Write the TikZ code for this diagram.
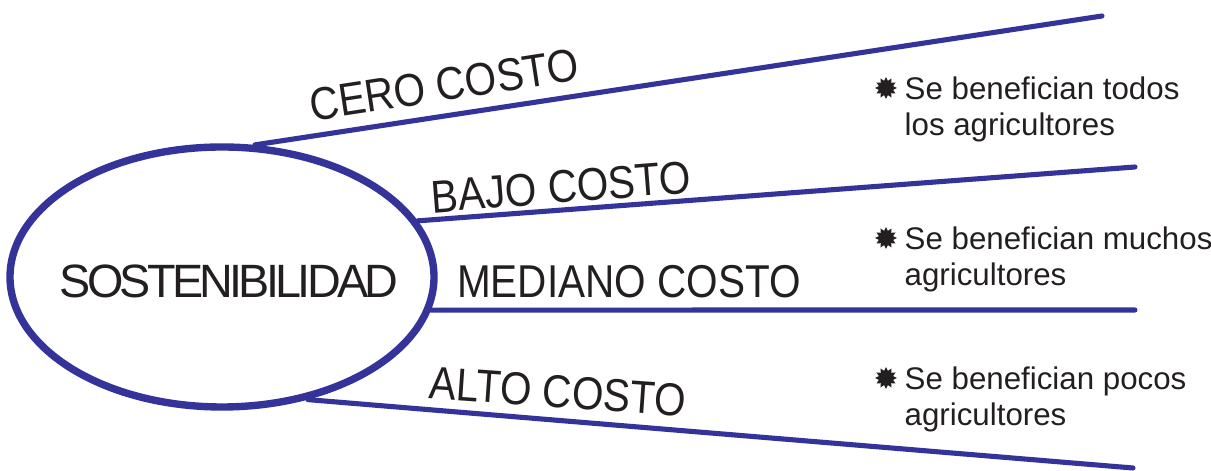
\documentclass[tikz,border=0pt]{standalone}
\usepackage{fontspec}
\setmainfont{Liberation Sans}
\newfontfamily\tightfont[LetterSpace=-8]{Liberation Sans}
\usetikzlibrary{shapes.geometric}
\definecolor{lineblue}{RGB}{51,51,153}
\definecolor{inkgray}{RGB}{35,31,32}

\begin{document}
\begin{tikzpicture}[
  costo/.style={text=inkgray,font=\fontsize{13.1}{15}\selectfont,xscale=0.88,inner sep=0},
  note/.style={text=inkgray,font=\fontsize{8.9}{10.3}\selectfont,align=left,inner sep=0,anchor=north west},
  burst/.style={star,star points=12,star point ratio=1.5,minimum size=0.22cm,inner sep=0,fill=inkgray},
  link/.style={draw=lineblue,line width=1.45pt,line cap=round}
]
\useasboundingbox (0,0) rectangle (12.11,4.71);

\node (s) at (2.22,1.94) [ellipse,draw=lineblue,line width=2.1pt,minimum width=4.24cm,minimum height=2.6cm,inner sep=0] {};
\node (st) at (2.29,1.895) [text=inkgray,inner sep=0,font=\tightfont\fontsize{13.3}{15}\selectfont] {SOSTENIBILIDAD};

\coordinate (e0) at (11.02,4.55);
\coordinate (e1) at (11.35,3.04);
\coordinate (e2) at (11.35,1.61);
\coordinate (e3) at (11.33,0.03);

\foreach \a/\x in {76/0,16/1,351/2,305/3} {
\draw[link] (s.\a) -- (e\x);
}

\node (l0) at (4.44,3.86) [rotate=8.7,costo] {CERO COSTO};
\node (l1) at (5.61,2.84) [rotate=4.5,costo] {BAJO COSTO};
\node (l2) at (6.29,1.89) [costo] {MEDIANO COSTO};
\node (l3) at (5.58,0.795) [rotate=-4,costo] {ALTO COSTO};

\node (b0) at (8.86,3.83) [burst] {};
\node (b1) at (8.86,2.33) [burst] {};
\node (b2) at (8.86,0.93) [burst] {};

\node (t0) at (9.04,3.95) [note] {Se benefician todos\\los agricultores};
\node (t1) at (9.04,2.45) [note] {Se benefician muchos\\agricultores};
\node (t2) at (9.04,1.05) [note] {Se benefician pocos\\agricultores};
\end{tikzpicture}
\end{document}
